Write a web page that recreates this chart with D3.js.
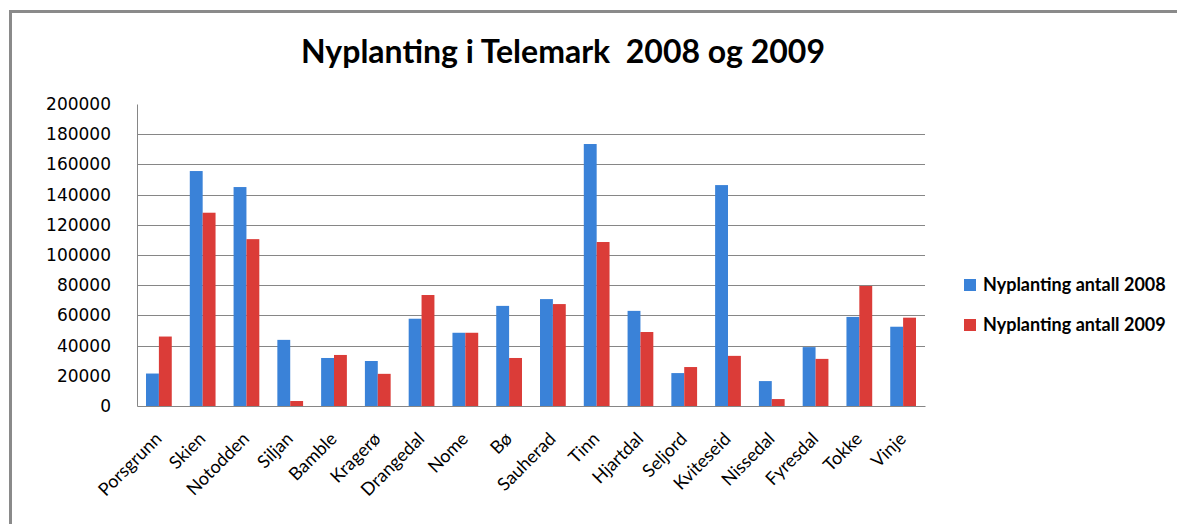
<!DOCTYPE html>
<html>
<head>
<meta charset="utf-8">
<script src="https://cdn.jsdelivr.net/npm/d3@7"></script>
<style>
  html, body { margin: 0; padding: 0; background: #fff; }
  svg { display: block; }
  text { font-family: Lato, "Open Sans", sans-serif; fill: #000; }
</style>
</head>
<body>
<div id="chart"></div>
<script>
// Nyplanting i Telemark 2008 og 2009
var kommuner = ['Porsgrunn', 'Skien', 'Notodden', 'Siljan', 'Bamble', 'Kragerø', 'Drangedal', 'Nome', 'Bø',
    'Sauherad', 'Tinn', 'Hjartdal', 'Seljord', 'Kviteseid', 'Nissedal', 'Fyresdal', 'Tokke', 'Vinje'];
var antall2008 = [21500, 155600, 145000, 43800, 31800, 29800, 57800, 48500, 66300,
    70800, 173500, 63000, 21800, 146300, 16500, 39000, 59000, 52500];
var antall2009 = [46000, 128000, 110500, 3300, 33800, 21300, 73500, 48500, 31800,
    67500, 108600, 49000, 25800, 33200, 4600, 31200, 79500, 58500];
var seriesNames = ['Nyplanting antall 2008', 'Nyplanting antall 2009'];
var seriesColors = ['#3a82d8', '#db3c38'];
var yTicks = [0, 20000, 40000, 60000, 80000, 100000, 120000, 140000, 160000, 180000, 200000];

var W = 1177, H = 524;
var plot = { left: 137, right: 925, top: 104, bottom: 406 };

var svg = d3.select('#chart').append('svg')
    .attr('width', W).attr('height', H);

// outer frame (only top and left edges show)
svg.append('path')
    .attr('d', 'M10.5,' + H + 'V11.5H' + W)
    .attr('fill', 'none')
    .attr('stroke', '#8a8a8a')
    .attr('stroke-width', 3);

var x0 = d3.scaleBand().domain(kommuner).range([plot.left, plot.right]).paddingInner(0).paddingOuter(0);
var x1 = d3.scaleBand().domain([0, 1]).range([0, x0.bandwidth()]).paddingInner(0).paddingOuter(0.7);
var y = d3.scaleLinear().domain([0, 200000]).range([plot.bottom, plot.top]);

// Gridlines
svg.append('g').selectAll('line')
    .data(yTicks.filter(function(d) { return d > 20000 && d < 200000; }))
    .enter().append('line')
    .attr('x1', plot.left).attr('x2', plot.right)
    .attr('y1', function(d) { return Math.round(y(d)) + 0.5; })
    .attr('y2', function(d) { return Math.round(y(d)) + 0.5; })
    .attr('stroke', '#868686').attr('stroke-width', 1);

// Y axis
var yAxis = d3.axisLeft(y).tickValues(yTicks).tickSize(0).tickPadding(26)
    .tickFormat(function(d) { return String(d); });
var yg = svg.append('g').attr('transform', 'translate(' + plot.left + ',0)').call(yAxis);
yg.select('.domain').attr('stroke', '#868686');
yg.selectAll('text')
    .style('font-family', '"DejaVu Sans", sans-serif')
    .style('font-size', '17px')
    .attr('fill', '#000');

// X axis baseline
var xAxis = d3.axisBottom(x0).tickSize(0).tickFormat('');
var xg = svg.append('g').attr('transform', 'translate(0,' + plot.bottom + ')').call(xAxis);
xg.select('.domain').attr('stroke', '#868686');

// Bars
var groups = svg.append('g').selectAll('g').data(kommuner).enter().append('g')
    .attr('transform', function(d) { return 'translate(' + x0(d) + ',0)'; });

groups.selectAll('rect')
    .data(function(d, i) { return [antall2008[i], antall2009[i]]; })
    .enter().append('rect')
    .attr('x', function(d, j) { return x1(j); })
    .attr('width', x1.bandwidth())
    .attr('y', function(d) { return y(d); })
    .attr('height', function(d) { return plot.bottom - y(d); })
    .attr('fill', function(d, j) { return seriesColors[j]; });

// Category labels, rotated
svg.append('g').selectAll('text').data(kommuner).enter().append('text')
    .attr('transform', function(d) {
        return 'translate(' + (x0(d) + x0.bandwidth() / 2 + 4) + ',440) rotate(-45)';
    })
    .attr('text-anchor', 'end')
    .style('font-size', '18px')
    .text(function(d) { return d; });

// Title
svg.append('text')
    .attr('x', 563).attr('y', 63)
    .attr('text-anchor', 'middle')
    .style('font-size', '32px')
    .style('font-weight', 'bold')
    .style('white-space', 'pre')
    .text('Nyplanting i Telemark  2008 og 2009');

// Legend
var legend = svg.append('g').selectAll('g').data(seriesNames).enter().append('g')
    .attr('transform', function(d, i) { return 'translate(964,' + (279 + i * 40) + ')'; });
legend.append('rect')
    .attr('width', 12).attr('height', 12)
    .attr('fill', function(d, i) { return seriesColors[i]; });
legend.append('text')
    .attr('x', 19).attr('y', 12)
    .style('font-size', '18px')
    .style('font-weight', 'bold')
    .text(function(d) { return d; });
</script>
</body>
</html>
